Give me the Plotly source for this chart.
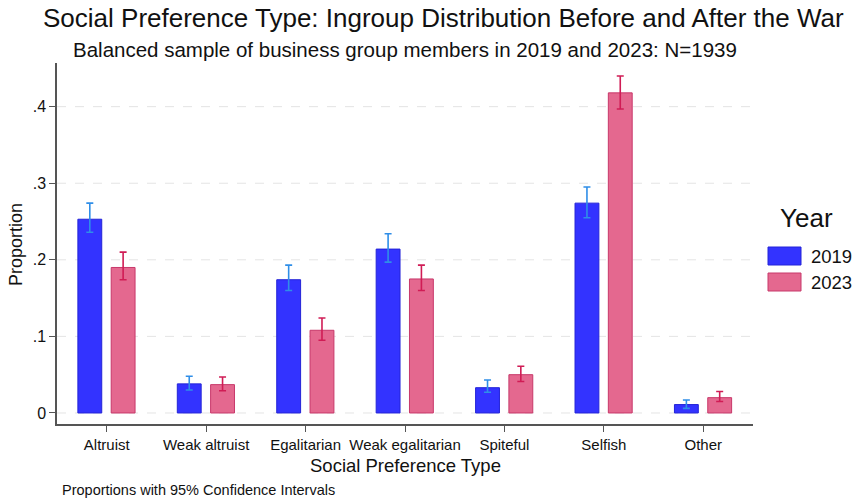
import plotly.graph_objects as go

# Social preference categories
categories = ["Altruist", "Weak altruist", "Egalitarian", "Weak egalitarian",
              "Spiteful", "Selfish", "Other"]

# Proportions by year
prop_2019 = [0.253, 0.038, 0.174, 0.214, 0.033, 0.274, 0.011]
prop_2023 = [0.190, 0.037, 0.108, 0.175, 0.050, 0.418, 0.020]

# 95% confidence interval bounds
ci_hi_2019 = [0.274, 0.048, 0.193, 0.234, 0.043, 0.295, 0.017]
ci_lo_2019 = [0.236, 0.030, 0.160, 0.197, 0.027, 0.255, 0.006]
ci_hi_2023 = [0.210, 0.047, 0.124, 0.193, 0.061, 0.440, 0.028]
ci_lo_2023 = [0.174, 0.029, 0.095, 0.160, 0.041, 0.397, 0.015]

y_ticks = [0, 0.1, 0.2, 0.3, 0.4]
y_tick_text = ["0", ".1", ".2", ".3", ".4"]

FONT = "Liberation Sans, Arial, sans-serif"
INK = "#111111"
BLUE, BLUE_EDGE, BLUE_CI = "#3333ff", "#2424d8", "#2f8ee8"
PINK, PINK_EDGE, PINK_CI = "#e4688f", "#c8386a", "#d01c55"

# Plot area in pixels (left, right, top, bottom)
L, R, T, B = 57, 753, 63, 424
W, H = R - L, B - T

x_idx = list(range(len(categories)))


def err(vals, hi, lo):
    return [h - v for v, h in zip(vals, hi)], [v - l for v, l in zip(vals, lo)]


def px(x, y):
    """Pixel position on the page -> paper coordinates."""
    return (x - L) / W, (B - y) / H


up19, dn19 = err(prop_2019, ci_hi_2019, ci_lo_2019)
up23, dn23 = err(prop_2023, ci_hi_2023, ci_lo_2023)

fig = go.Figure()
fig.add_trace(go.Bar(
    x=x_idx, y=prop_2019, name="2019", width=0.24, offset=-0.29,
    marker=dict(color=BLUE, line=dict(color=BLUE_EDGE, width=1)),
    error_y=dict(type="data", array=up19, arrayminus=dn19, color=BLUE_CI,
                 thickness=1.6, width=3.5),
    showlegend=False,
))
fig.add_trace(go.Bar(
    x=x_idx, y=prop_2023, name="2023", width=0.24, offset=0.045,
    marker=dict(color=PINK, line=dict(color=PINK_EDGE, width=1)),
    error_y=dict(type="data", array=up23, arrayminus=dn23, color=PINK_CI,
                 thickness=1.6, width=3.5),
    showlegend=False,
))

# Dashed horizontal grid lines
for t in y_ticks:
    fig.add_shape(type="line", xref="paper", yref="y", x0=0, x1=1, y0=t, y1=t,
                  line=dict(color="#e4e4e4", width=1, dash="dash"), layer="below")


def text(label, x, y, size, xanchor="center", angle=0):
    xp, yp = px(x, y)
    fig.add_annotation(text=label, xref="paper", yref="paper", x=xp, y=yp,
                       xanchor=xanchor, yanchor="middle", showarrow=False,
                       textangle=angle, font=dict(family=FONT, size=size, color=INK))


# Titles
text("Social Preference Type: Ingroup Distribution Before and After the War", 443, 18, 26)
text("Balanced sample of business group members in 2019 and 2023: N=1939", 405, 50, 20.5)

# Axis titles
text("Social Preference Type", 405, 465, 18.5)
text("Proportion", 16, 245, 18, angle=-90)

# Note
text("Proportions with 95% Confidence Intervals", 60, 490, 14.5, xanchor="left")

# Custom legend: title and wide swatches
text("Year", 806, 218, 26)
legend_items = [("2019", BLUE, BLUE_EDGE, 247, 265), ("2023", PINK, PINK_EDGE, 273, 291)]
for label, fill, edge, top, bot in legend_items:
    x0, y0 = px(768, bot)
    x1, y1 = px(801, top)
    fig.add_shape(type="rect", xref="paper", yref="paper", x0=x0, x1=x1, y0=y0, y1=y1,
                  fillcolor=fill, line=dict(color=edge, width=1))
    text(label, 809, (top + bot) / 2, 18.5, xanchor="left")

fig.update_layout(
    width=853, height=500,
    margin=dict(l=L, r=853 - R, t=T, b=500 - B),
    paper_bgcolor="white", plot_bgcolor="white",
    font=dict(family=FONT, color=INK),
    xaxis=dict(
        range=[-0.5, 6.5], tickmode="array", tickvals=x_idx, ticktext=categories,
        ticks="outside", ticklen=6, tickcolor="#555555", showgrid=False,
        showline=True, linecolor="#555555", linewidth=1.5, zeroline=False,
        tickfont=dict(family=FONT, size=15, color=INK),
    ),
    yaxis=dict(
        range=[-0.0144, 0.457], tickmode="array", tickvals=y_ticks, ticktext=y_tick_text,
        ticks="outside", ticklen=6, tickcolor="#555555", showgrid=False,
        showline=True, linecolor="#555555", linewidth=1.5, zeroline=False,
        tickfont=dict(family=FONT, size=16, color=INK),
    ),
)

fig.write_html("out.html")
